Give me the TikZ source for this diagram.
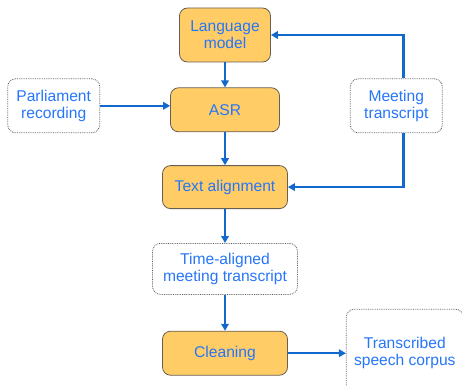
\documentclass[tikz,border=0pt]{standalone}
\usepackage{fontspec}
\setmainfont{Liberation Sans}
\usetikzlibrary{arrows.meta,positioning}
\definecolor{boxorange}{RGB}{255,204,102}
\definecolor{boxedge}{RGB}{105,95,80}
\definecolor{textblue}{RGB}{38,118,250}
\definecolor{flowblue}{RGB}{18,104,204}

\begin{document}
\begin{tikzpicture}[font=\fontsize{15.6}{17}\selectfont,text=textblue,
    node distance=25pt,>={Triangle[length=7pt,width=7.5pt]}]
    \tikzstyle{process}=[draw=boxedge,fill=boxorange,line width=0.8pt,
      rounded corners=8pt,align=center,inner sep=0pt]
    \tikzstyle{data}=[draw=gray!70!black,densely dotted,line width=0.8pt,
      rounded corners=8pt,align=center,inner sep=0pt,fill=white]
    \tikzstyle{flow}=[->,flowblue,line width=2.5pt]

    \useasboundingbox (0,0) rectangle (462pt,-385pt);

    \node [process,minimum width=91pt,minimum height=54pt] (lm) at (225pt,-35pt)
      {Language\\model};
    \node [process,below=of lm,minimum width=109pt,minimum height=44pt] (asr) {ASR};
    \node [process,below=33pt of asr,minimum width=125pt,minimum height=43pt]
      (align) {Text alignment};
    \node [data,below=34pt of align,minimum width=145pt,minimum height=51pt]
      (timed) {Time-aligned\\meeting transcript};
    \node [process,below=36pt of timed,minimum width=125pt,minimum height=44pt]
      (clean) {Cleaning};

    \node [data,left=70pt of asr,yshift=4pt,minimum width=92pt,minimum height=54pt]
      (parl) {Parliament\\recording};
    \node [data,right=70pt of asr,yshift=4pt,minimum width=92pt,minimum height=54pt]
      (meet) {Meeting\\transcript};
    \node [data,right=58pt of clean,minimum width=117pt,minimum height=88pt]
      (corpus) {Transcribed\\speech corpus};

    \path [flow]
    (lm) edge (asr)
    (asr) edge (align)
    (parl.east) edge (asr.west |- parl.east)
    (align) edge (timed)
    (timed) edge (clean)
    (clean) edge (corpus);

    % feedback from the transcript
    \draw [flow] ([xshift=7pt]meet.north) |- (lm);
    \draw [flow] ([xshift=7pt]meet.south) |- (align);
  \end{tikzpicture}
\end{document}
